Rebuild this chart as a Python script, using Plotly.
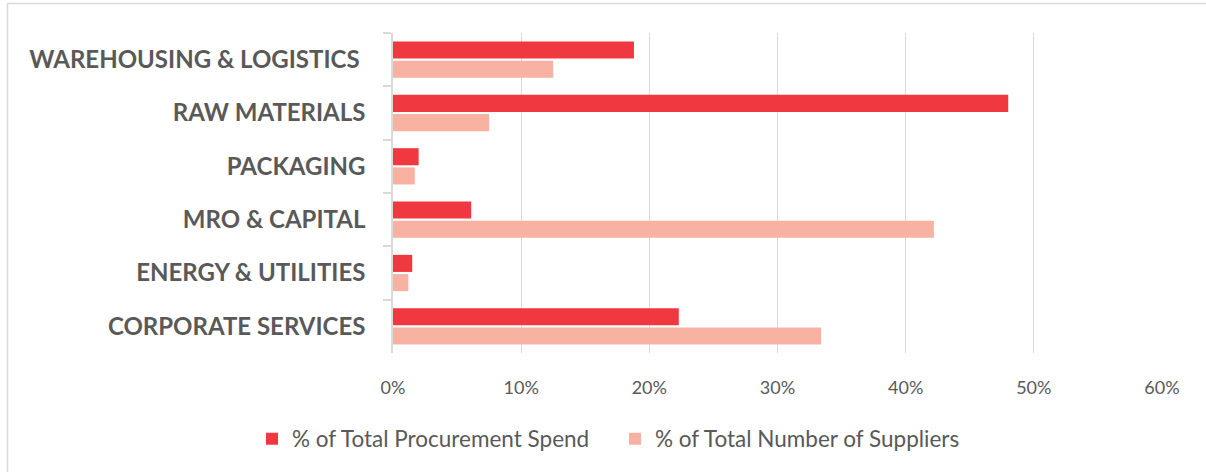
import plotly.graph_objects as go

categories = ["WAREHOUSING & LOGISTICS ", "RAW MATERIALS", "PACKAGING", "MRO & CAPITAL",
              "ENERGY & UTILITIES", "CORPORATE SERVICES"]
spend = [0.188, 0.480, 0.020, 0.061, 0.015, 0.223]
suppliers = [0.125, 0.075, 0.017, 0.422, 0.012, 0.334]
x_ticks = [0, 0.1, 0.2, 0.3, 0.4, 0.5, 0.6]
x_tick_labels = ["0%", "10%", "20%", "30%", "40%", "50%", "60%"]

RED = "#EF3840"
PINK = "#F8B2A2"
TXT = "#595959"
GRID = "#D9D9D9"

W, H = 1206, 472
L, R, T, B = 393, 44, 33, 119
pw, ph = W - L - R, H - T - B

fig = go.Figure()
fig.add_trace(go.Bar(y=categories, x=spend, orientation="h", name="% of Total Procurement Spend",
                     marker=dict(color=RED, line=dict(width=0))))
fig.add_trace(go.Bar(y=categories, x=suppliers, orientation="h", name="% of Total Number of Suppliers",
                     marker=dict(color=PINK, line=dict(width=0))))

def px_x(v):
    return (v - L) / pw

def px_y(v):
    return (H - B - v) / ph

fig.update_layout(
    width=W, height=H,
    margin=dict(l=L, r=R, t=T, b=B, pad=0),
    paper_bgcolor="white", plot_bgcolor="white",
    barmode="group", bargap=0.28, bargroupgap=0.11,
    font=dict(family="Lato", color=TXT, size=17),
    showlegend=True,
    legend=dict(orientation="h", x=px_x(615), xanchor="center", y=px_y(439), yanchor="middle",
                font=dict(family="Lato", size=22.5, color=TXT), itemwidth=30,
                entrywidth=318, entrywidthmode="pixels"),
    xaxis=dict(range=[0, 0.6], tickvals=x_ticks, ticktext=x_tick_labels,
               showgrid=True, gridcolor=GRID, gridwidth=1.3, zeroline=False,
               showline=False, ticks="", ticklabelstandoff=22,
               tickfont=dict(family="Lato", size=18, color=TXT)),
    yaxis=dict(categoryorder="array", categoryarray=categories, autorange="reversed",
               showgrid=False, zeroline=False, showline=True, linecolor=GRID, linewidth=1.5,
               ticks="outside", tickson="boundaries", ticklen=8, tickcolor=GRID, tickwidth=1.5,
               ticklabelstandoff=21,
               tickfont=dict(family="Lato", size=24, color=TXT, weight="bold")),
    shapes=[
        dict(type="line", xref="paper", yref="paper", x0=px_x(7.5), x1=px_x(1206), y0=px_y(3.5), y1=px_y(3.5),
             line=dict(color=GRID, width=1.5), layer="below"),
        dict(type="line", xref="paper", yref="paper", x0=px_x(7.5), x1=px_x(7.5), y0=px_y(3.5), y1=px_y(472),
             line=dict(color=GRID, width=1.5), layer="below"),
    ],
)

fig.write_html("out.html", config={"displayModeBar": False},
               post_script="document.body.style.margin='0px';")
